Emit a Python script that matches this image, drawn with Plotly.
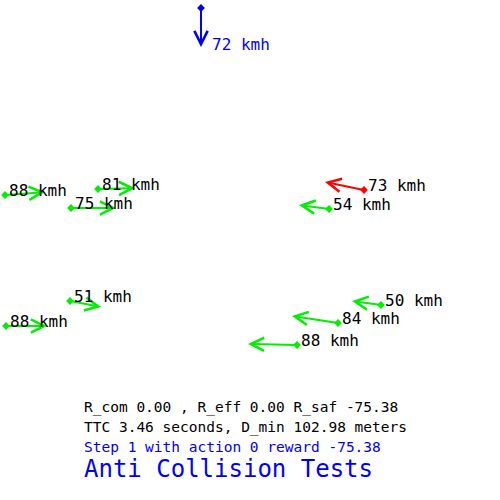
import numpy as np
import plotly.graph_objects as go

# aircraft in screen pixels (y grows downward): current position, heading tip
speeds_kmh = [72, 88, 81, 75, 73, 54, 51, 88, 50, 84, 88]
pos_x = [201, 5, 98, 71, 364, 329, 70, 6, 381, 338, 297]
pos_y = [8, 195, 189, 208, 190, 209, 301, 326, 305, 323, 345]
tip_x = [201, 45, 135, 116, 325, 299, 101, 47, 352, 292, 248]
tip_y = [47, 192, 188, 208, 182, 205, 307, 326, 301, 316, 344]
kind = ["own", "other", "other", "other", "threat", "other", "other", "other", "other", "other", "other"]

info_lines = [
    "R_com 0.00 , R_eff 0.00 R_saf -75.38",
    "TTC 3.46 seconds, D_min 102.98 meters",
    "Step 1 with action 0 reward -75.38",
]
title_text = "Anti Collision Tests"

line_color = {"own": "#0000ff", "other": "#00ee00", "threat": "#ff0000"}
label_color = {"own": "#0000ff", "other": "#000000", "threat": "#000000"}
FONT = "DejaVu Sans Mono"

fig = go.Figure()
annotations = []

for i, spd in enumerate(speeds_kmh):
    c = line_color[kind[i]]
    # heading vector drawn as an arrow from the aircraft to its tip
    annotations.append(dict(
        x=tip_x[i], y=tip_y[i], ax=pos_x[i], ay=pos_y[i],
        xref="x", yref="y", axref="x", ayref="y",
        showarrow=True, arrowhead=5, arrowsize=1.3, arrowwidth=2,
        arrowcolor=c, text="",
    ))
    if kind[i] == "own":
        lx, ly = tip_x[i] + 9, tip_y[i] - 3
    else:
        lx, ly = pos_x[i] + 2, pos_y[i] - 5
    annotations.append(dict(
        x=lx, y=ly, xref="x", yref="y", showarrow=False,
        text=f"{spd} kmh", xanchor="left", yanchor="middle",
        font=dict(family=FONT, size=16, color=label_color[kind[i]]),
    ))

fig.add_trace(go.Scatter(
    x=pos_x, y=pos_y, mode="markers", cliponaxis=False,
    marker=dict(size=6, color=[line_color[k] for k in kind], symbol="diamond"),
    hoverinfo="skip",
))

info_y = [407, 427, 447]
info_col = ["#000000", "#000000", "#0000ff"]
for txt, yy, col in zip(info_lines, info_y, info_col):
    annotations.append(dict(
        x=82, y=yy, xref="x", yref="y", showarrow=False, text=txt,
        xanchor="left", yanchor="middle",
        font=dict(family=FONT, size=14.5, color=col),
    ))
annotations.append(dict(
    x=82, y=469, xref="x", yref="y", showarrow=False, text=title_text,
    xanchor="left", yanchor="middle",
    font=dict(family=FONT, size=24, color="#0000ff"),
))

fig.update_layout(
    width=500, height=500,
    margin=dict(l=0, r=0, t=0, b=0),
    paper_bgcolor="white", plot_bgcolor="white",
    showlegend=False,
    annotations=annotations,
    xaxis=dict(range=[0, 500], visible=False, fixedrange=True),
    yaxis=dict(range=[500, 0], visible=False, fixedrange=True),
)

# drop the default 8px body margin so the canvas sits at the page corner
fig.write_html(
    "out.html",
    config={"displayModeBar": False},
    post_script="document.body.style.margin='0';",
)
